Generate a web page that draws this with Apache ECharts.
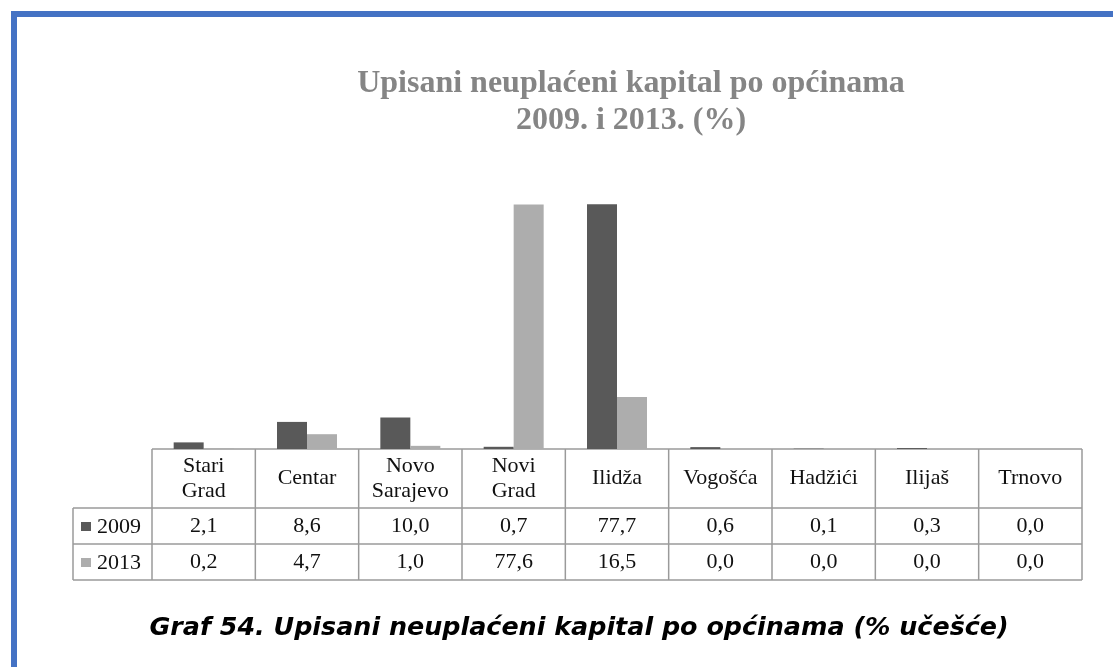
<!DOCTYPE html>
<html>
<head>
<meta charset="utf-8">
<script src="https://cdn.jsdelivr.net/npm/echarts@6/dist/echarts.min.js"></script>
<style>
  html, body { margin: 0; padding: 0; background: #fff; }
  #chart { width: 1113px; height: 667px; }
</style>
</head>
<body>
<div id="chart"></div>
<script>
// Municipalities (header row of the data table)
const categories = ['Stari\nGrad', 'Centar', 'Novo\nSarajevo', 'Novi\nGrad', 'Ilidža', 'Vogošća', 'Hadžići', 'Ilijaš', 'Trnovo'];
const seriesNames = ['2009', '2013'];
// Share of subscribed unpaid capital, %
const values2009 = [2.1, 8.6, 10.0, 0.7, 77.7, 0.6, 0.1, 0.3, 0.0];
const values2013 = [0.2, 4.7, 1.0, 77.6, 16.5, 0.0, 0.0, 0.0, 0.0];

const colors = ['#595959', '#adadad'];
const serif = '"Liberation Serif", "Times New Roman", serif';
const fmt = v => v.toFixed(1).replace('.', ',');
const tableFont = 22;

const chart = echarts.init(document.getElementById('chart'));

const gridLeft = 152, gridRight = 1113 - 1082, gridTop = 197, gridBottom = 667 - 449;
const headerH = 59, rowH = 36, labelColLeft = 73;

function valueAxis(data, margin) {
  return {
    type: 'category',
    data: categories,
    position: 'bottom',
    axisLine: { show: false },
    axisTick: { show: false },
    axisLabel: {
      interval: 0,
      margin: margin,
      verticalAlign: 'middle',
      fontFamily: serif,
      fontSize: tableFont,
      color: '#111',
      formatter: (val, idx) => fmt(data[idx])
    }
  };
}

chart.setOption({
  animation: false,
  title: [
    {
      text: 'Upisani neuplaćeni kapital po općinama\n2009. i 2013. (%)',
      left: 626,
      top: 60,
      textAlign: 'center',
      textStyle: {
        fontFamily: serif,
        fontWeight: 'bold',
        fontSize: 32,
        lineHeight: 37,
        color: '#858585'
      }
    },
    {
      text: 'Graf 54. Upisani neuplaćeni kapital po općinama (% učešće)',
      left: 574,
      top: 611,
      textAlign: 'center',
      textStyle: {
        fontFamily: '"DejaVu Sans", sans-serif',
        fontWeight: 'bold',
        fontStyle: 'italic',
        fontSize: 25.4,
        color: '#000'
      }
    }
  ],
  grid: { left: gridLeft, right: gridRight, top: gridTop, bottom: gridBottom },
  xAxis: [
    {
      type: 'category',
      data: categories,
      position: 'bottom',
      axisLine: { show: false },
      axisTick: { show: false },
      axisLabel: {
        interval: 0,
        margin: headerH / 2,
        verticalAlign: 'middle',
        fontFamily: serif,
        fontSize: tableFont,
        lineHeight: 25,
        color: '#111'
      }
    },
    valueAxis(values2009, headerH + rowH / 2),
    valueAxis(values2013, headerH + rowH * 1.5)
  ],
  yAxis: { type: 'value', min: 0, max: 80, show: false },
  series: [
    { name: seriesNames[0], type: 'bar', data: values2009, barWidth: 30, barGap: '0%', itemStyle: { color: colors[0] } },
    { name: seriesNames[1], type: 'bar', data: values2013, barWidth: 30, barGap: '0%', itemStyle: { color: colors[1] } }
  ]
});

// Data table grid lines and row keys, placed from the category axis
function drawTable() {
  const c0 = chart.convertToPixel({ xAxisIndex: 0 }, categories[0]);
  const c1 = chart.convertToPixel({ xAxisIndex: 0 }, categories[1]);
  const band = c1 - c0;
  const left = c0 - band / 2;
  const right = left + band * categories.length;
  const top = chart.convertToPixel({ yAxisIndex: 0 }, 0);
  const rowTop = top + headerH;
  const bottom = rowTop + rowH * 2;
  const lineStyle = { stroke: '#9a9a9a', lineWidth: 1.5 };
  const els = [];
  const hLine = (x1, x2, y) => els.push({ type: 'line', shape: { x1, y1: y, x2, y2: y }, style: lineStyle, silent: true });
  const vLine = (x, y1, y2) => els.push({ type: 'line', shape: { x1: x, y1, x2: x, y2 }, style: lineStyle, silent: true });

  hLine(left, right, top);
  hLine(labelColLeft, right, rowTop);
  hLine(labelColLeft, right, rowTop + rowH);
  hLine(labelColLeft, right, bottom);
  for (let i = 0; i <= categories.length; i++) vLine(left + band * i, top, bottom);
  vLine(labelColLeft, rowTop, bottom);

  seriesNames.forEach((name, i) => {
    const cy = rowTop + rowH * (i + 0.5);
    els.push({ type: 'rect', shape: { x: labelColLeft + 8, y: cy - 4, width: 10, height: 9 }, style: { fill: colors[i] }, silent: true });
    els.push({
      type: 'text',
      style: { text: name, x: labelColLeft + 24, y: cy + 1, verticalAlign: 'middle', font: tableFont + 'px ' + serif, fill: '#111' },
      silent: true
    });
  });

  // page frame
  els.push({ type: 'rect', shape: { x: 11, y: 11, width: 1113 - 11, height: 6 }, style: { fill: '#4472c4' }, silent: true });
  els.push({ type: 'rect', shape: { x: 11, y: 11, width: 6, height: 667 - 11 }, style: { fill: '#4472c4' }, silent: true });

  chart.setOption({ graphic: { elements: els } });
}
drawTable();
</script>
</body>
</html>
